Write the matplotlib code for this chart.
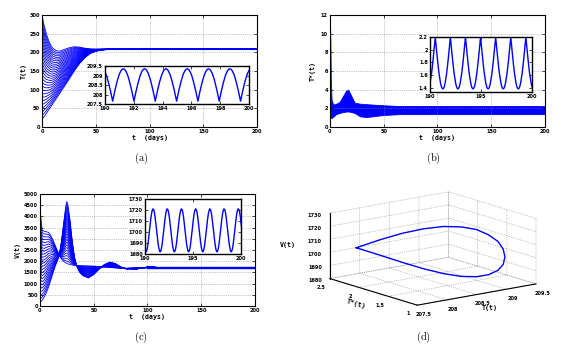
import numpy as np
import matplotlib
matplotlib.use('Agg')
import matplotlib.pyplot as plt
from matplotlib.ticker import FormatStrFormatter

plt.rcParams['mathtext.fontset'] = 'cm'
plt.rcParams['xtick.direction'] = 'in'
plt.rcParams['ytick.direction'] = 'in'

BLUE = (0, 0, 1)

# ---- (a) T(t): family of trajectories, read as bottom / top curves + initial values
t_a = [0, 2, 4, 6, 8, 10, 13, 16, 20, 25, 30, 35, 40, 45, 50, 55, 60, 70, 80, 200]
T_top = [300, 272, 250, 233, 220, 211, 205, 203, 207, 212, 215, 214, 211, 209, 208.5, 208.5, 208.5, 208.5, 208.5, 208.5]
T_bot = [20, 28, 36, 45, 53, 62, 75, 88, 105, 127, 150, 170, 186, 197, 203, 206, 207.5, 208.5, 208.5, 208.5]
T0_vals = [20, 30, 40, 50, 60, 70, 80, 90, 100, 110, 120, 130, 140, 150, 160,
           170, 180, 190, 200, 210, 220, 230, 240, 250, 260, 270, 280, 290, 300]

# ---- (b) T*(t): dense oscillation band, read as lower / upper edge
t_b = [0, 0.4, 0.8, 1.5, 3, 6, 9, 12, 15, 17, 20, 23, 28, 34, 40, 47, 55, 65, 200]
Ts_up = [11.2, 9, 5, 2.9, 2.4, 2.5, 2.7, 3.3, 3.9, 4.0, 3.3, 2.6, 2.5, 2.45, 2.4, 2.35, 2.3, 2.25, 2.25]
Ts_lo = [1.0, 1.0, 1.0, 0.96, 1.1, 1.4, 1.5, 1.6, 1.65, 1.67, 1.6, 1.5, 1.14, 1.07, 1.15, 1.25, 1.32, 1.38, 1.38]

# ---- (c) V(t): family of trajectories
t_c = [0, 1, 2, 4, 6, 8, 10, 12, 14, 16, 18, 20, 22, 24, 25, 26, 28, 30, 32, 34, 37, 40,
       45, 50, 55, 60, 65, 70, 75, 80, 90, 100, 105, 110, 120, 200]
V_top = [4500, 3800, 3400, 3330, 3310, 3290, 3150, 2950, 2720, 2480, 2260, 2100, 1990, 1920, 1900, 1880,
         1850, 1830, 1815, 1805, 1800, 1795, 1790, 1780, 1760, 1740, 1720, 1700, 1690, 1680, 1700, 1710,
         1705, 1700, 1700, 1701]
V_bot = [150, 200, 250, 400, 600, 850, 1150, 1450, 1750, 2000, 2260, 2900, 3700, 4450, 4670, 4500,
         3800, 2900, 2200, 1800, 1500, 1350, 1250, 1400, 1650, 1850, 1960, 1900, 1750, 1660, 1650, 1740,
         1750, 1710, 1700, 1701]
V0_vals = [150, 340, 530, 720, 910, 1100, 1290, 1480, 1670, 1860, 2050, 2240,
           2430, 2620, 2810, 3000, 3190, 3380, 3570, 3760, 3950, 4140, 4330, 4500]

# ---- one period of the limit cycle (phase fraction)
phase = [0, .05, .1, .15, .2, .25, .3, .35, .4, .45, .5, .55, .6, .65, .7, .75, .8, .85, .9, .95, 1.0]
T_cyc = [207.65, 207.92, 208.18, 208.42, 208.65, 208.85, 209.03, 209.16, 209.27, 209.33, 209.35,
         209.33, 209.27, 209.16, 209.03, 208.85, 208.65, 208.42, 208.18, 207.92, 207.65]
Ts_cyc = [2.20, 2.07, 1.95, 1.83, 1.72, 1.62, 1.54, 1.47, 1.42, 1.39, 1.38,
          1.39, 1.42, 1.47, 1.54, 1.62, 1.72, 1.83, 1.95, 2.07, 2.20]
V_cyc = [1706.4, 1712.0, 1716.5, 1719.6, 1721.0, 1720.4, 1718.0, 1713.9, 1708.7, 1702.7, 1696.6,
         1691.0, 1686.5, 1683.4, 1682.0, 1682.6, 1685.0, 1689.1, 1694.3, 1700.3, 1706.4]
period = 1.48
cycle_starts = [189.05, 190.53, 192.01, 193.49, 194.97, 196.45, 197.93, 199.41]


def family(ax, t, low, high, starts):
    low = np.array(low, float)
    high = np.array(high, float)
    lo, hi = starts[0], starts[-1]
    for s in starts:
        w = (s - lo) / (hi - lo)
        ax.plot(t, low + w * (high - low), color=BLUE, lw=0.6)


def tiled(values):
    tt, vv = [], []
    for s in cycle_starts:
        tt.extend([s + p * period for p in phase])
        vv.extend(values)
    return tt, vv


def style(ax, xticks, yticks, grid=True, lw=0.8):
    ax.set_xticks(xticks)
    ax.set_yticks(yticks)
    ax.xaxis.set_major_formatter(FormatStrFormatter('%g'))
    ax.yaxis.set_major_formatter(FormatStrFormatter('%g'))
    ax.tick_params(labelsize=3.6, length=2, width=0.5, pad=1.5, top=True, right=True)
    for lab in ax.get_xticklabels() + ax.get_yticklabels():
        lab.set_fontweight('bold')
    if grid:
        ax.grid(True, linestyle=':', color='0.55', linewidth=0.5)
    for sp in ax.spines.values():
        sp.set_linewidth(lw)


lab_kw = dict(family='DejaVu Sans Mono', fontweight='bold', fontsize=4.8)

fig = plt.figure(figsize=(5.77, 3.54), dpi=100)

# (a)
ax = fig.add_axes([0.0728, 0.6412, 0.3726, 0.3164])
family(ax, t_a, T_bot, T_top, T0_vals)
ax.fill_between([50, 200], [T_cyc[0]] * 2, [max(T_cyc)] * 2, color=BLUE, lw=0.8)
ax.set_xlim(0, 200)
ax.set_ylim(0, 300)
style(ax, [0, 50, 100, 150, 200], [0, 50, 100, 150, 200, 250, 300])
ax.set_xlabel('t  (days)', labelpad=0.5, **lab_kw)
ax.set_ylabel('T(t)', labelpad=2, **lab_kw)

ins = fig.add_axes([0.182, 0.7062, 0.2496, 0.1073])
tt, vv = tiled(T_cyc)
ins.plot(tt, vv, color=BLUE, lw=1.0)
ins.set_xlim(190, 200)
ins.set_ylim(207.5, 209.5)
style(ins, [190, 192, 194, 196, 198, 200], [207.5, 208, 208.5, 209, 209.5], grid=False, lw=1.0)

# (b)
ax = fig.add_axes([0.5719, 0.6412, 0.3726, 0.3164])
ax.fill_between(t_b, Ts_lo, Ts_up, color=BLUE, lw=0.6)
ax.set_xlim(0, 200)
ax.set_ylim(0, 12)
style(ax, [0, 50, 100, 150, 200], [0, 2, 4, 6, 8, 10, 12])
ax.set_xlabel('t  (days)', labelpad=0.5, **lab_kw)
ax.set_ylabel('T*(t)', labelpad=4, **lab_kw)

ins = fig.add_axes([0.745, 0.740, 0.1768, 0.1554])
tt, vv = tiled(Ts_cyc)
ins.plot(tt, vv, color=BLUE, lw=1.0)
ins.set_xlim(190, 200)
ins.set_ylim(1.33, 2.2)
style(ins, [190, 195, 200], [1.4, 1.6, 1.8, 2, 2.2], grid=False, lw=1.0)

# (c)
ax = fig.add_axes([0.0693, 0.1356, 0.3726, 0.3164])
family(ax, t_c, V_bot, V_top, V0_vals)
ax.fill_between([100, 200], [min(V_cyc)] * 2, [max(V_cyc)] * 2, color=BLUE, lw=1.0)
ax.set_xlim(0, 200)
ax.set_ylim(0, 5000)
style(ax, [0, 50, 100, 150, 200], list(range(0, 5001, 500)))
ax.set_xlabel('t  (days)', labelpad=0.5, **lab_kw)
ax.set_ylabel('V(t)', labelpad=2, **lab_kw)

ins = fig.add_axes([0.2513, 0.2825, 0.1664, 0.1554])
tt, vv = tiled(V_cyc)
ins.plot(tt, vv, color=BLUE, lw=1.0)
ins.set_xlim(190, 200)
ins.set_ylim(1680, 1730)
style(ins, [190, 195, 200], [1680, 1690, 1700, 1710, 1720, 1730], grid=False, lw=1.0)

# (d) 3-D limit cycle
ax3 = fig.add_axes([0.476, 0.031, 0.54, 0.52], projection='3d')
ax3.set_proj_type('ortho')
ax3.plot(T_cyc, Ts_cyc, V_cyc, color=BLUE, lw=1.0)
ax3.set_xlim(207.5, 209.5)
ax3.set_ylim(1, 2.5)
ax3.set_zlim(1680, 1730)
ax3.set_xticks([207.5, 208, 208.5, 209, 209.5])
ax3.set_yticks([1, 1.5, 2, 2.5])
ax3.set_zticks([1680, 1690, 1700, 1710, 1720, 1730])
for axis in (ax3.xaxis, ax3.yaxis, ax3.zaxis):
    axis.set_major_formatter(FormatStrFormatter('%g'))
ax3.view_init(elev=13.5, azim=-127.5)
ax3.set_box_aspect((1.0, 0.96, 0.45), zoom=1.15)
for axis in (ax3.xaxis, ax3.yaxis, ax3.zaxis):
    axis.set_pane_color((1, 1, 1, 0))
    axis.pane.set_edgecolor('0.6')
    axis._axinfo['grid'].update({'linestyle': ':', 'color': '0.55', 'linewidth': 0.5})
    axis._axinfo['tick']['inward_factor'] = 0.0
    axis._axinfo['tick']['outward_factor'] = 0.0
    axis.line.set_color('k')
    axis.line.set_linewidth(0.8)
ax3.tick_params(labelsize=3.6, pad=-3)
for lab in ax3.get_xticklabels() + ax3.get_yticklabels() + ax3.get_zticklabels():
    lab.set_fontweight('bold')
ax3.set_xlabel('T(t)', labelpad=-11, **lab_kw)
ax3.set_ylabel('T*(t)', labelpad=-11, **lab_kw)
ax3.set_zlabel('V(t)', labelpad=-7, **lab_kw)

for x, y, s in [(141, 158, '(a)'), (433, 158, '(b)'), (141, 337, '(c)'), (423, 337, '(d)')]:
    fig.text(x / 577, 1 - y / 354, r'$\mathrm{' + s + '}$', ha='center', va='center', fontsize=7.5)

fig.savefig('out.png', dpi=100)
